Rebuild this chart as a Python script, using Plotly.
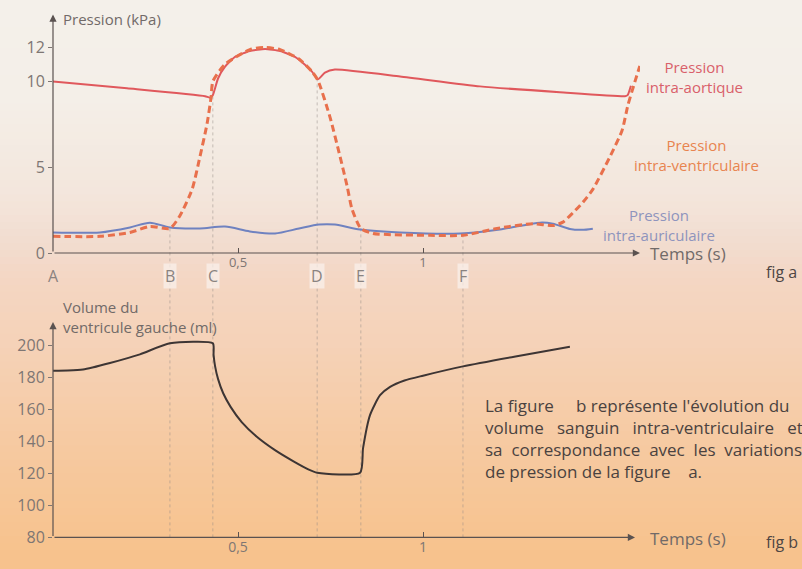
import numpy as np
import plotly.graph_objects as go

W, H = 802, 569

# ---- Cardiac cycle data (time in s) ----
# Aortic pressure (kPa)
t_aorte = [0.0, 0.20, 0.411, 0.424, 0.432, 0.446, 0.465, 0.492, 0.532, 0.573, 0.614,
           0.654, 0.681, 0.700, 0.716, 0.735, 0.762, 0.938, 1.154, 1.370, 1.546, 1.553, 1.562]
p_aorte = [10.0, 9.6, 9.14, 9.05, 9.2, 10.17, 10.86, 11.43, 11.77, 11.89, 11.77,
           11.43, 10.97, 10.57, 10.12, 10.51, 10.69, 10.29, 9.71, 9.37, 9.14, 9.2, 9.75]

# Left ventricular pressure (kPa)
t_ventricule = [0.0, 0.128, 0.208, 0.262, 0.316, 0.343, 0.376, 0.397, 0.416, 0.427, 0.432,
                0.465, 0.532, 0.573, 0.614, 0.665, 0.700, 0.716, 0.749, 0.776, 0.795, 0.808,
                0.832, 0.865, 1.019, 1.108, 1.200, 1.297, 1.351, 1.378, 1.405, 1.432,
                1.459, 1.505, 1.538, 1.554, 1.573, 1.586]
p_ventricule = [0.97, 0.97, 1.2, 1.55, 1.43, 2.17, 3.71, 5.6, 7.49, 9.03, 10.0,
                11.0, 11.85, 11.98, 11.85, 11.3, 10.57, 10.06, 7.89, 5.6, 3.89, 2.57,
                1.43, 1.14, 1.03, 1.03, 1.43, 1.71, 1.6, 1.8, 2.34, 2.95,
                3.71, 5.6, 7.14, 8.63, 10.0, 10.9]

# Left atrial pressure (kPa)
t_oreillette = [0.0, 0.127, 0.208, 0.262, 0.316, 0.397, 0.465, 0.532, 0.600, 0.665, 0.719,
                0.762, 0.830, 0.938, 1.100, 1.208, 1.316, 1.351, 1.397, 1.430, 1.459]
p_oreillette = [1.2, 1.2, 1.49, 1.77, 1.49, 1.43, 1.54, 1.26, 1.14, 1.43, 1.66,
                1.66, 1.37, 1.2, 1.14, 1.37, 1.77, 1.71, 1.4, 1.35, 1.42]

# Left ventricular volume (ml)
t_volume = [0.0, 0.04, 0.081, 0.154, 0.235, 0.316, 0.432, 0.434, 0.438, 0.446, 0.460,
            0.480, 0.510, 0.550, 0.600, 0.650, 0.690, 0.714, 0.830, 0.838, 0.857, 0.884,
            0.911, 0.950, 1.000, 1.108, 1.250, 1.397]
v_volume = [184.1, 184.2, 184.8, 188.9, 194.3, 201.2, 201.2, 194.0, 187.0, 179.0, 170.0,
            161.5, 152.0, 143.0, 134.5, 127.5, 122.5, 120.4, 120.4, 135.7, 156.5, 168.8,
            174.0, 178.0, 181.0, 186.8, 193.0, 199.0]

# Phase markers
phase_labels = ["A", "B", "C", "D", "E", "F"]
phase_times = [0.0, 0.316, 0.432, 0.714, 0.832, 1.108]

x_ticks = [0.5, 1]
x_ticktext = ["0,5", "1"]
p_ticks = [0, 5, 10, 12]
v_ticks = [80, 100, 120, 140, 160, 180, 200]

# ---- Layout geometry ----
def px(x):
    return x / W


def py(y):
    return 1 - y / H


x_range = [0, 1.5865]
x_dom = [px(53), px(640)]
p_range = [0, 13.6]
p_dom = [py(258), py(20)]
v_range = [80, 213.5]
v_dom = [py(548), py(330)]

FONT = "Open Sans"
GREY = "#7e7673"
NB = "\u00a0"

fig = go.Figure()

# Background: paper gradient from cream to orange
stops_y = [0, 100, 200, 250, 290, 350, 450, 569]
stops_c = [(244, 240, 234), (244, 239, 232), (243, 230, 220), (242, 220, 207),
           (244, 214, 194), (245, 210, 184), (246, 202, 162), (247, 194, 140)]
n_bands = 80
shapes = []
for i in range(n_bands):
    y0 = H * i / n_bands
    y1 = H * (i + 1) / n_bands
    ym = (y0 + y1) / 2
    r = np.interp(ym, stops_y, [c[0] for c in stops_c])
    g = np.interp(ym, stops_y, [c[1] for c in stops_c])
    b = np.interp(ym, stops_y, [c[2] for c in stops_c])
    top = 1 - y0 / H + 0.002 if i > 0 else 1.05
    bot = 1 - y1 / H if i < n_bands - 1 else -0.05
    shapes.append(dict(type="rect", xref="paper", yref="paper", x0=-0.05, x1=1.05,
                       y0=bot, y1=top, layer="below",
                       line=dict(width=0), fillcolor=f"rgb({r:.0f},{g:.0f},{b:.0f})"))

# Dotted guide lines through both panels at phases B..F
for lab, t in zip(phase_labels[1:], phase_times[1:]):
    p_top = float(np.interp(t, t_ventricule, p_ventricule))
    top_paper = p_dom[0] + (p_top - p_range[0]) / (p_range[1] - p_range[0]) * (p_dom[1] - p_dom[0])
    shapes.append(dict(type="line", xref="x", yref="paper", x0=t, x1=t,
                       y0=v_dom[0], y1=top_paper, layer="below",
                       line=dict(color="rgba(150,140,135,0.5)", width=1, dash="dot")))

# ---- Traces ----
fig.add_trace(go.Scatter(x=t_aorte, y=p_aorte, mode="lines", xaxis="x", yaxis="y",
                         line=dict(color="#e0585c", width=2, shape="spline", smoothing=0.5),
                         showlegend=False, hoverinfo="skip"))
fig.add_trace(go.Scatter(x=t_oreillette, y=p_oreillette, mode="lines", xaxis="x", yaxis="y",
                         line=dict(color="#6f82c0", width=2, shape="spline", smoothing=0.8),
                         showlegend=False, hoverinfo="skip"))
fig.add_trace(go.Scatter(x=t_ventricule, y=p_ventricule, mode="lines", xaxis="x", yaxis="y",
                         line=dict(color="#e8704c", width=3, dash="7px,4px",
                                   shape="spline", smoothing=0.6),
                         showlegend=False, hoverinfo="skip"))
fig.add_trace(go.Scatter(x=t_volume, y=v_volume, mode="lines", xaxis="x2", yaxis="y2",
                         line=dict(color="#3d3534", width=2, shape="spline", smoothing=0.6),
                         showlegend=False, hoverinfo="skip"))

# ---- Annotations ----
ann = []
AX = "#5a5250"
# axis arrows
ann.append(dict(x=1.5865, y=0, ax=0, ay=0, xref="x", yref="y", axref="x", ayref="y",
                text="", showarrow=True, arrowhead=2, arrowsize=1.2, arrowwidth=1.2, arrowcolor=AX))
ann.append(dict(x=0, y=13.9, ax=0, ay=0, xref="x", yref="y", axref="x", ayref="y",
                text="", showarrow=True, arrowhead=2, arrowsize=1.2, arrowwidth=1.2, arrowcolor=AX))
ann.append(dict(x=1.573, y=80, ax=0, ay=80, xref="x2", yref="y2", axref="x2", ayref="y2",
                text="", showarrow=True, arrowhead=2, arrowsize=1.2, arrowwidth=1.2, arrowcolor=AX))
ann.append(dict(x=0, y=214.5, ax=0, ay=80, xref="x2", yref="y2", axref="x2", ayref="y2",
                text="", showarrow=True, arrowhead=2, arrowsize=1.2, arrowwidth=1.2, arrowcolor=AX))


def label(text, x, y, size=15, color=GREY, xanchor="left", yanchor="middle", align="left", **kw):
    ann.append(dict(text=text, x=px(x), y=py(y), xref="paper", yref="paper",
                    xanchor=xanchor, yanchor=yanchor, align=align, showarrow=False,
                    font=dict(family=FONT, size=size, color=color), **kw))


label("Pression (kPa)", 61, 19, size=15, color="#716a68")
label("Temps (s)", 648, 258, size=17, color="#716a68")
label("fig a", 764, 277, size=16, color="#4e4644")
label("Pression<br>intra-aortique", 694, 79, size=15, color="#d9606a", xanchor="center", align="center")
label("Pression<br>intra-ventriculaire", 696, 158, size=15, color="#e8844f", xanchor="center", align="center")
label("Pression<br>intra-auriculaire", 659, 229, size=15, color="#8e94bd", xanchor="center", align="center")

label("Volume du<br>ventricule gauche (ml)", 61, 323, size=15, color="#716a68")
label("Temps (s)", 648, 549, size=17, color="#716a68")
label("fig b", 764, 553, size=16, color="#4e4644")

# justified paragraph (word spacing widened with non-breaking spaces)
para = [
    f"La figure{NB * 5}b{NB}représente{NB}l'évolution{NB}du",
    f"volume{NB * 3}sanguin{NB * 3}intra-ventriculaire{NB * 3}et",
    f"sa{NB * 2}correspondance{NB * 2}avec{NB * 2}les{NB * 2}variations",
    f"de pression de la figure{NB * 4}a.",
]
label("<br>".join(para), 483, 447, size=17, color="#4a4240")

for lab, t in zip(phase_labels, phase_times):
    ann.append(dict(text=lab, x=t, y=py(281), xref="x", yref="paper", showarrow=False,
                    xanchor="center", yanchor="middle",
                    bgcolor="rgba(250,240,235,0.75)" if lab != "A" else "rgba(0,0,0,0)",
                    borderpad=1,
                    font=dict(family=FONT, size=16, color="#8a8380")))

axis_common = dict(showgrid=False, zeroline=False, showline=False)

fig.update_layout(
    width=W, height=H,
    margin=dict(l=0, r=0, t=0, b=0),
    paper_bgcolor="rgb(247,194,140)",
    plot_bgcolor="rgba(0,0,0,0)",
    shapes=shapes,
    annotations=ann,
    xaxis=dict(domain=x_dom, range=x_range, anchor="y", tickvals=x_ticks, ticktext=x_ticktext,
               ticks="inside", ticklen=5, tickcolor=AX,
               tickfont=dict(family=FONT, size=13, color=GREY), **axis_common),
    yaxis=dict(domain=p_dom, range=p_range, anchor="x", tickvals=p_ticks,
               ticks="outside", ticklen=4, tickcolor=GREY,
               tickfont=dict(family=FONT, size=16, color=GREY), **axis_common),
    xaxis2=dict(domain=x_dom, range=x_range, anchor="y2", tickvals=x_ticks, ticktext=x_ticktext,
                ticks="inside", ticklen=5, tickcolor=AX,
                tickfont=dict(family=FONT, size=14, color=GREY), **axis_common),
    yaxis2=dict(domain=v_dom, range=v_range, anchor="x2", tickvals=v_ticks,
                ticks="outside", ticklen=4, tickcolor=GREY,
                tickfont=dict(family=FONT, size=16, color=GREY), **axis_common),
)

fig.write_html("out.html")
